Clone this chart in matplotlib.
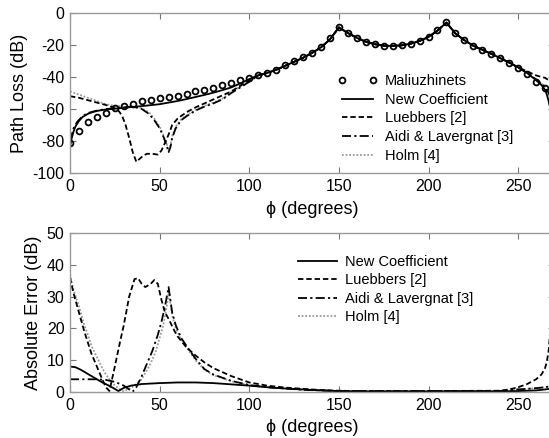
import matplotlib
matplotlib.use("Agg")
import matplotlib.pyplot as plt

plt.rcParams['font.family'] = ['Liberation Sans', 'DejaVu Sans']
plt.rcParams['axes.unicode_minus'] = False

# ---------------- Top panel: path loss (dB) ----------------
mal_phi = list(range(0, 270, 5))
mal_db = [-81.5, -73.7, -68.3, -64.8, -62.3, -59.6, -58.3, -56.9, -55.2, -54.2,
          -53.3, -52.7, -51.7, -50.4, -49.0, -47.9, -46.6, -45.2, -43.7, -42.0,
          -40.4, -38.8, -37.3, -35.5, -32.5, -30.0, -27.7, -24.8, -21.0, -15.8,
          -8.5, -12.3, -15.4, -17.9, -19.4, -20.4, -20.6, -20.0, -19.1, -17.3,
          -14.8, -10.6, -5.4, -12.7, -16.9, -20.6, -23.1, -25.6, -28.3, -31.0,
          -34.2, -38.1, -42.9, -47.0]

# common upper part (all models overlap the reference here)
tail_phi = [105, 110, 115, 120, 125, 130, 135, 140, 145, 150, 155, 160, 165, 170,
            175, 180, 185, 190, 195, 200, 205, 210, 215, 220, 225, 230, 235, 240,
            245, 250]
tail_db = [-39.0, -37.5, -35.5, -33.0, -30.5, -28.0, -25.0, -21.5, -16.5, -9.0,
           -12.5, -15.5, -18.0, -19.5, -20.4, -20.6, -20.2, -19.2, -17.5, -15.0,
           -11.0, -6.0, -12.8, -17.0, -20.5, -23.0, -25.5, -28.2, -31.0, -34.0]

new_phi = [0, 1, 2, 3, 5, 7, 10, 13, 16, 20, 25, 30, 35, 40, 45, 50, 55, 60, 65,
           70, 75, 80, 85, 90, 95, 100] + tail_phi + [255, 260, 263, 265, 266, 267, 268, 270]
new_db = [-84.0, -78.0, -74.0, -71.0, -67.5, -65.0, -63.0, -61.8, -61.0, -60.3,
          -59.8, -59.3, -58.7, -58.2, -57.6, -57.0, -56.0, -55.0, -53.8, -52.5,
          -51.2, -49.8, -48.2, -46.5, -44.0, -41.3] + tail_db + \
         [-37.5, -42.0, -45.0, -48.0, -51.0, -55.0, -60.0, -70.0]

lue_phi = [0, 5, 10, 15, 20, 24, 27, 29, 31, 33, 35, 37, 39, 41, 43, 46, 49, 51,
           53, 55, 57, 60, 65, 70, 75, 80, 85, 90, 95, 100] + tail_phi + \
          [255, 260, 263, 265, 267, 270]
lue_db = [-52.0, -53.0, -54.5, -56.0, -57.5, -59.0, -61.0, -64.0, -70.0, -78.0,
          -87.0, -93.0, -91.0, -89.0, -88.0, -88.0, -88.5, -86.0, -81.0, -76.0,
          -70.0, -66.0, -62.0, -59.0, -56.5, -54.0, -51.5, -49.0, -45.5, -42.0] + tail_db + \
         [-36.5, -39.0, -40.0, -40.5, -42.0, -48.0]

aidi_phi = [0, 2, 4, 7, 10, 15, 20, 25, 30, 35, 40, 44, 47, 50, 52, 54, 55, 56,
            57, 59, 62, 65, 70, 75, 80, 85, 90, 95, 100] + tail_phi + \
           [255, 260, 265, 267, 270]
aidi_db = [-80.0, -72.0, -68.0, -64.5, -62.5, -61.0, -60.0, -59.5, -59.0, -58.5,
           -60.0, -63.0, -67.0, -72.0, -77.0, -83.0, -87.0, -84.0, -78.0, -72.0,
           -67.0, -64.5, -61.0, -58.5, -56.5, -54.0, -50.0, -46.5, -43.0] + tail_db + \
          [-37.5, -41.5, -46.0, -50.0, -58.0]

holm_phi = [0, 5, 10, 15, 20, 25, 30, 35, 40, 44, 47, 50, 52, 54, 55, 56, 57, 59,
            62, 65, 70, 75, 80, 85, 90, 95, 100] + tail_phi + \
           [255, 260, 265, 267, 270]
holm_db = [-49.0, -51.0, -53.0, -55.0, -57.0, -58.0, -58.5, -58.5, -59.5, -62.0,
           -66.0, -71.0, -76.0, -82.0, -86.0, -83.0, -77.0, -71.0, -66.5, -64.0,
           -60.5, -58.0, -56.0, -53.5, -49.5, -46.0, -42.5] + tail_db + \
          [-37.5, -41.5, -46.0, -50.0, -58.0]

# ---------------- Bottom panel: absolute error (dB) ----------------
enew_phi = [0, 3, 6, 9, 12, 15, 18, 21, 24, 27, 30, 34, 40, 50, 60, 70, 80, 90,
            100, 110, 120, 130, 140, 150, 160, 200, 240, 250, 260, 265, 270]
enew = [8.0, 7.8, 7.0, 6.0, 5.0, 4.0, 3.0, 2.2, 1.3, 0.3, 1.3, 2.0, 2.5, 2.8, 3.0,
        3.0, 2.8, 2.4, 2.0, 1.5, 1.1, 0.8, 0.5, 0.3, 0.2, 0.2, 0.2, 0.3, 0.5, 0.8, 1.2]

elue_phi = [0, 2, 5, 8, 10, 12, 15, 18, 20, 22, 25, 28, 30, 33, 36, 38, 40, 42,
            45, 47, 49, 51, 53, 55, 58, 60, 65, 70, 75, 80, 90, 100, 110, 120, 130,
            140, 150, 160, 200, 240, 245, 250, 255, 260, 263, 265, 266, 267, 268, 270]
elue = [36.0, 31.0, 25.0, 19.0, 15.5, 12.0, 8.0, 4.0, 1.5, 0.3, 8.0, 16.0, 21.0,
        30.0, 35.5, 35.8, 34.0, 33.0, 34.0, 35.2, 34.0, 29.0, 25.0, 23.0, 19.5,
        17.5, 14.0, 11.5, 9.3, 7.5, 5.0, 3.0, 2.0, 1.4, 1.0, 0.6, 0.4, 0.3, 0.3,
        0.4, 0.8, 1.5, 2.5, 4.0, 5.5, 7.5, 9.5, 13.0, 20.0, 35.0]

eaidi_phi = [0, 5, 10, 15, 20, 25, 30, 33, 35, 37, 40, 43, 46, 49, 51, 53, 54, 55,
             56, 57, 59, 62, 65, 70, 75, 80, 90, 100, 110, 120, 130, 140, 150, 200,
             240, 250, 260, 265, 270]
eaidi = [4.0, 4.0, 4.0, 4.0, 3.8, 3.2, 2.0, 0.8, 0.1, 1.5, 5.0, 9.0, 13.0, 18.0,
         22.0, 27.0, 30.0, 33.0, 29.0, 25.0, 21.0, 17.0, 14.5, 10.5, 7.2, 5.5, 3.5,
         2.2, 1.5, 1.1, 0.7, 0.5, 0.3, 0.3, 0.3, 0.8, 1.2, 1.5, 2.0]

eholm_phi = [0, 2, 5, 8, 10, 12, 15, 18, 20, 22, 25, 28, 30, 33, 36, 40, 45, 48,
             50, 52, 54, 55, 56, 57, 59, 62, 65, 70, 75, 80, 90, 100, 110, 120, 130,
             140, 150, 200, 240, 250, 260, 265, 270]
eholm = [37.0, 32.0, 27.0, 21.0, 18.0, 14.5, 11.0, 7.5, 5.5, 4.0, 2.0, 0.8, 0.2,
         1.0, 2.0, 4.0, 9.0, 13.0, 17.0, 21.0, 27.0, 31.0, 28.0, 24.0, 20.0, 16.5,
         14.0, 10.0, 7.0, 5.3, 3.4, 2.1, 1.5, 1.1, 0.7, 0.5, 0.3, 0.3, 0.3, 0.8,
         1.2, 1.5, 2.0]

labels = ["Maliuzhinets", "New Coefficient", "Luebbers [2]",
          "Aidi & Lavergnat [3]", "Holm [4]"]
xticks = [0, 50, 100, 150, 200, 250]
top_yticks = [0, -20, -40, -60, -80, -100]
bot_yticks = [0, 10, 20, 30, 40, 50]

W, H = 549, 438
fig = plt.figure(figsize=(W / 100, H / 100), dpi=100)

left = 70 / W
width = (554 - 70) / W
ax1 = fig.add_axes([left, 1 - 173 / H, width, (173 - 13) / H])
ax2 = fig.add_axes([left, 1 - 392 / H, width, (392 - 233) / H])

lw = 1.3
sty_new = dict(color='black', lw=lw, ls='-')
sty_lue = dict(color='black', lw=lw, ls=(0, (3.0, 1.6)))
sty_aidi = dict(color='black', lw=lw, ls=(0, (5.0, 1.8, 1.2, 1.8)))
sty_holm = dict(color='#9a9a9a', lw=lw, ls=(0, (1.0, 1.0)))

ax1.plot(holm_phi, holm_db, label=labels[4], **sty_holm)
ax1.plot(aidi_phi, aidi_db, label=labels[3], **sty_aidi)
ax1.plot(lue_phi, lue_db, label=labels[2], **sty_lue)
ax1.plot(new_phi, new_db, label=labels[1], **sty_new)
ax1.plot(mal_phi, mal_db, ls='none', marker='o', ms=4.2, mfc='none', mec='black',
         mew=1.3, label=labels[0])

ax2.plot(eholm_phi, eholm, label=labels[4], **sty_holm)
ax2.plot(eaidi_phi, eaidi, label=labels[3], **sty_aidi)
ax2.plot(elue_phi, elue, label=labels[2], **sty_lue)
ax2.plot(enew_phi, enew, label=labels[1], **sty_new)

for ax, yl, yt, lim in [(ax1, "Path Loss (dB)", top_yticks, (-100, 0)),
                        (ax2, "Absolute Error (dB)", bot_yticks, (0, 50))]:
    ax.set_xlim(0, 270)
    ax.set_ylim(*lim)
    ax.set_xticks(xticks)
    ax.set_yticks(yt)
    ax.tick_params(direction='in', top=True, right=True, labelsize=11.5,
                   length=4, color='#777777', pad=4)
    for s in ax.spines.values():
        s.set_color('#9a9a9a')
        s.set_linewidth(1.0)
    ax.set_xlabel("ϕ (degrees)", fontsize=13, labelpad=5)
    ax.set_ylabel(yl, fontsize=13, labelpad=3)

h1, l1 = ax1.get_legend_handles_labels()
order = [labels.index(x) for x in l1]
hs = [h for _, h in sorted(zip(order, h1), key=lambda t: t[0])]
ls_ = [labels[i] for i in sorted(order)]
fig.legend(hs, ls_, loc='upper left', bbox_to_anchor=(338 / W, 1 - 74 / H),
           frameon=False, fontsize=10.5, numpoints=2, handlelength=2.7,
           handletextpad=0.5, labelspacing=0.32, borderpad=0, borderaxespad=0)

h2, l2 = ax2.get_legend_handles_labels()
order2 = [labels.index(x) for x in l2]
hs2 = [h for _, h in sorted(zip(order2, h2), key=lambda t: t[0])]
ls2 = [labels[i] for i in sorted(order2)]
fig.legend(hs2, ls2, loc='upper left', bbox_to_anchor=(298 / W, 1 - 255 / H),
           frameon=False, fontsize=10.5, handlelength=2.7,
           handletextpad=0.5, labelspacing=0.3, borderpad=0, borderaxespad=0)

fig.savefig("out.png", dpi=100)
